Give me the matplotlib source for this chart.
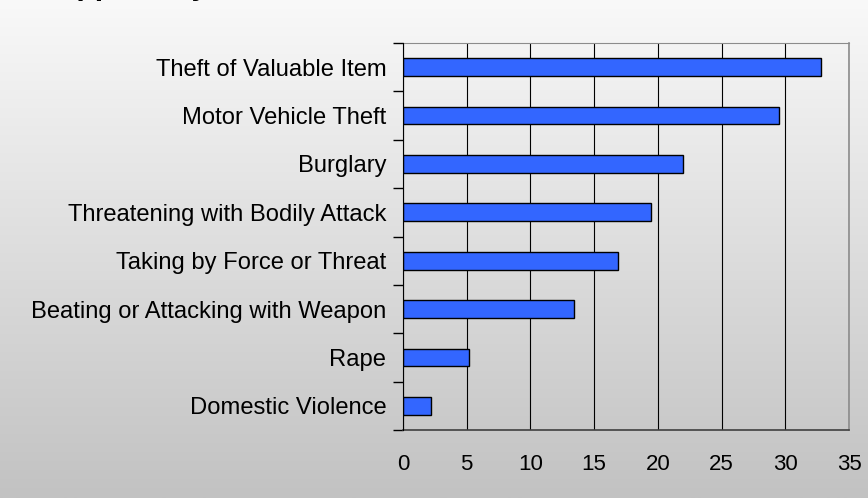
import matplotlib.pyplot as plt
import numpy as np
from matplotlib.colors import LinearSegmentedColormap
from matplotlib.ticker import FixedLocator, NullFormatter

CATEGORIAS = [
    "Theft of Valuable Item",
    "Motor Vehicle Theft",
    "Burglary",
    "Threatening with Bodily Attack",
    "Taking by Force or Threat",
    "Beating or Attacking with Weapon",
    "Rape",
    "Domestic Violence",
]
VALORES = [32.8, 29.5, 22.0, 19.5, 16.9, 13.4, 5.2, 2.2]
XTICKS = [0, 5, 10, 15, 20, 25, 30, 35]
TITULO = "Happens by Crime"

plt.rcParams.update({
    "font.family": ["Liberation Sans", "DejaVu Sans"],
    "font.size": 16,
})

fig = plt.figure(figsize=(8.68, 4.98), dpi=100)

# fondo degradado vertical (claro arriba, gris abajo)
fondo = fig.add_axes([0, 0, 1, 1], zorder=-10)
grad = np.linspace(0, 1, 256).reshape(-1, 1)
fondo.imshow(grad, aspect="auto",
             cmap=LinearSegmentedColormap.from_list("fondo", ["#f9f9f9", "#c2c2c2"]),
             extent=[0, 1, 0, 1], origin="upper")
fondo.set_axis_off()

# título (queda casi fuera del lienzo, sólo asoman los trazos bajos)
fig.text(0.0438, 1.0095, TITULO, fontsize=21.6, fontweight="bold", va="baseline", ha="left")

ax = fig.add_axes([0.4643, 0.1365, 0.5138, 0.7772])
ax.set_facecolor("none")

y = np.arange(len(CATEGORIAS))
ax.barh(y, VALORES, height=0.37, color="#3366ff", edgecolor="black", lw=1.0, zorder=3)

ax.set_xlim(0, 35)
ax.set_ylim(len(CATEGORIAS) - 0.5, -0.5)
ax.set_xticks(XTICKS)
ax.set_xticklabels([str(v) for v in XTICKS], fontsize=16)
ax.tick_params(axis="x", length=0, pad=17)

ax.set_yticks(y)
ax.set_yticklabels(CATEGORIAS, fontsize=17.1)
ax.tick_params(axis="y", which="major", length=0, pad=12)
ax.yaxis.set_minor_locator(FixedLocator(np.arange(-0.5, len(CATEGORIAS), 1)))
ax.yaxis.set_minor_formatter(NullFormatter())
ax.tick_params(axis="y", which="minor", length=7, width=1, color="black", direction="out")

ax.grid(axis="x", color="black", lw=0.8, zorder=1)
ax.set_axisbelow(True)

ax.spines["left"].set_color("black")
ax.spines["left"].set_zorder(4)
ax.spines["bottom"].set_color("#404040")
ax.spines["bottom"].set_linewidth(1.2)
ax.spines["top"].set_color("#8c8c8c")
ax.spines["right"].set_color("#8c8c8c")
ax.spines["right"].set_linewidth(1.2)

fig.savefig("out.png", dpi=100)
